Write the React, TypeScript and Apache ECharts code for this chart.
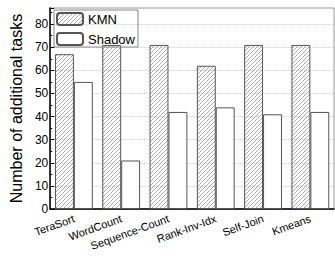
import React, { useEffect, useRef } from "react";
import * as echarts from "echarts";

const categories = ["TeraSort", "WordCount", "Sequence-Count", "Rank-Inv-Idx", "Self-Join", "Kmeans"];
const kmnValues = [67, 71, 71, 62, 71, 71];
const shadowValues = [55, 21, 42, 44, 41, 42];
const yAxisName = "Number of additional tasks";

const hatchSvg =
  "<svg xmlns='http://www.w3.org/2000/svg' width='4' height='4'>" +
  "<path d='M-1,1 L1,-1 M0,4 L4,0 M3,5 L5,3' stroke='#777' stroke-width='0.6'/></svg>";
const hatchUrl = "data:image/svg+xml;charset=utf-8," + encodeURIComponent(hatchSvg);

export default function App() {
  const ref = useRef<HTMLDivElement>(null);
  useEffect(() => {
    if (!ref.current) return;
    const chart = echarts.init(ref.current, undefined, { renderer: "svg" });
    const font = "Liberation Sans, Arial, sans-serif";
    chart.setOption({
      animation: false,
      textStyle: { fontFamily: font },
      grid: {
        left: 49,
        right: 1,
        top: 8,
        bottom: 51,
        show: true,
        borderColor: "#999",
        borderWidth: 1,
        backgroundColor: "transparent",
      },
      legend: {
        left: 54,
        top: 10,
        orient: "vertical",
        itemWidth: 26,
        itemHeight: 12,
        itemGap: 6,
        padding: [2, 3, 1, 2],
        borderColor: "#888",
        borderWidth: 1,
        textStyle: { fontSize: 13, color: "#000", fontFamily: font },
        data: ["KMN", "Shadow"],
      },
      xAxis: {
        type: "category",
        data: categories,
        axisLine: { lineStyle: { color: "#000", width: 1.5 } },
        axisTick: { show: false },
        axisLabel: { rotate: 20, fontSize: 11, color: "#000", margin: 9, fontFamily: font },
      },
      yAxis: {
        type: "value",
        min: 0,
        max: 87,
        interval: 10,
        name: yAxisName,
        nameLocation: "middle",
        nameGap: 26,
        nameTextStyle: { fontSize: 16, color: "#000", fontFamily: font },
        axisLine: { show: true, lineStyle: { color: "#000", width: 1.5 } },
        axisTick: { show: true, inside: true, length: 4, lineStyle: { color: "#000" } },
        minorTick: { show: true, splitNumber: 2, length: 2, lineStyle: { color: "#000" } },
        axisLabel: {
          fontSize: 12,
          color: "#000",
          margin: 2,
          fontFamily: font,
          showMaxLabel: false,
        },
        splitLine: { show: true, lineStyle: { color: "#ccc", type: "dotted" } },
      },
      series: [
        {
          name: "KMN",
          type: "bar",
          data: kmnValues,
          barGap: "0%",
          barCategoryGap: "20%",
          itemStyle: {
            color: { image: hatchUrl, repeat: "repeat", imageWidth: 4, imageHeight: 4 },
            borderColor: "#555",
            borderWidth: 1,
          },
        },
        {
          name: "Shadow",
          type: "bar",
          data: shadowValues,
          barGap: "0%",
          barCategoryGap: "20%",
          itemStyle: { color: "#fff", borderColor: "#555", borderWidth: 1 },
        },
      ],
    });
    return () => chart.dispose();
  }, []);
  return <div ref={ref} style={{ width: 335, height: 260, position: "absolute", left: 0, top: 0 }} />;
}
